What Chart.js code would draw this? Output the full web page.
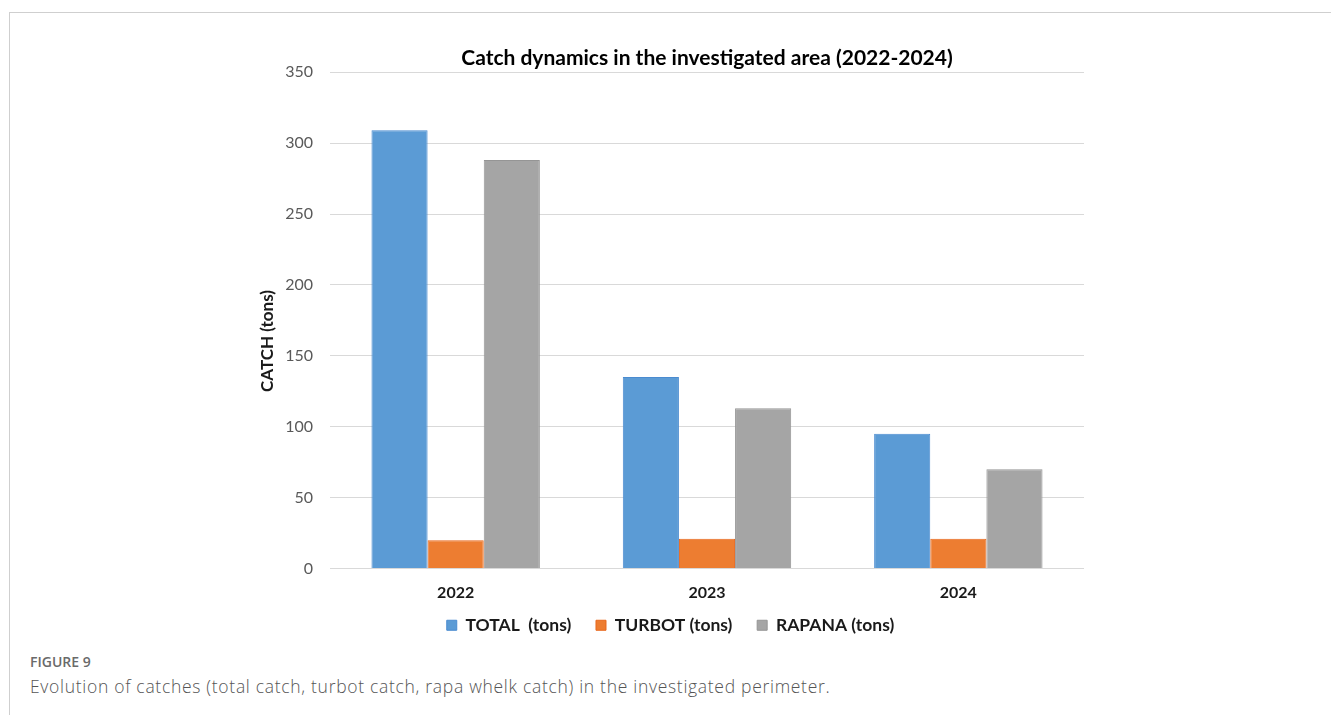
<!DOCTYPE html>
<html>
<head>
<meta charset="utf-8">
<script src="https://cdn.jsdelivr.net/npm/chart.js@4.4.0/dist/chart.umd.min.js"></script>
<style>
  body { margin: 0; background: #fff; width: 1331px; height: 715px; overflow: hidden; position: relative; }
  #frame { position: absolute; left: 9px; top: 12px; right: -2px; bottom: -2px; border-top: 1px solid #cfcfcf; border-left: 1px solid #cfcfcf; }
  #wrap { position: absolute; left: 0; top: 0; width: 1331px; height: 644px; }
  #fig { position: absolute; left: 30px; top: 652px; font-family: "Open Sans", sans-serif; font-size: 14px; font-weight: 600; color: #6a6a6a; }
  #cap { position: absolute; left: 30px; top: 674px; font-family: "Open Sans", sans-serif; font-size: 17.5px; color: #555; font-weight: 300; letter-spacing: 0.7px; }
</style>
</head>
<body>
<div id="frame"></div>
<div id="wrap"><canvas id="catchChart"></canvas></div>
<div id="fig">FIGURE 9</div>
<div id="cap">Evolution of catches (total catch, turbot catch, rapa whelk catch) in the investigated perimeter.</div>
<script>
// Years on the x axis
const years = ['2022', '2023', '2024'];

// Catch values (tons)
const totalTons = [309, 135, 95];
const turbotTons = [20, 21, 21];
const rapanaTons = [288, 113, 70];

const seriesNames = ['TOTAL  (tons)', 'TURBOT (tons)', 'RAPANA (tons)'];
const yTicks = [0, 50, 100, 150, 200, 250, 300, 350];

const font = 'Lato, "Liberation Sans", sans-serif';

let canvas = document.getElementById('catchChart');
let context = canvas.getContext('2d');

new Chart(context, {
    type: 'bar',
    data: {
        labels: years,
        datasets: [
            {
                label: seriesNames[0],
                data: totalTons,
                backgroundColor: '#5b9bd5',
                borderColor: '#4a8bd0',
                borderWidth: 1,
            },
            {
                label: seriesNames[1],
                data: turbotTons,
                backgroundColor: '#ed7d31',
                borderColor: '#e8681c',
                borderWidth: 1,
            },
            {
                label: seriesNames[2],
                data: rapanaTons,
                backgroundColor: '#a5a5a5',
                borderColor: '#959595',
                borderWidth: 1,
            }
        ]
    },
    options: {
        responsive: true,
        maintainAspectRatio: false,
        animation: false,
        layout: { padding: { left: 257, right: 247, top: 0, bottom: 0 } },
        datasets: { bar: { categoryPercentage: 0.67, barPercentage: 1.0 } },
        plugins: {
            title: {
                display: true,
                fullSize: false, // centre over the plot area like the original
                text: 'Catch dynamics in the investigated area (2022-2024)',
                color: '#000',
                font: { family: font, size: 21, weight: 'bold' },
                padding: { top: 46, bottom: 1 }
            },
            legend: {
                position: 'bottom',
                labels: {
                    color: '#1a1a1a',
                    font: { family: font, size: 17.5, weight: 'bold' },
                    boxWidth: 10,
                    boxHeight: 10,
                    padding: 12,
                    // small vertical padding, so widen the gaps between items with spaces
                    generateLabels: function (chart) {
                        let items = Chart.defaults.plugins.legend.labels.generateLabels(chart);
                        items.forEach((item, i) => {
                            if (i < items.length - 1) item.text = item.text + '   ';
                        });
                        return items;
                    }
                }
            },
            tooltip: { enabled: false }
        },
        scales: {
            x: {
                grid: { display: false, drawTicks: false },
                border: { display: false },
                ticks: {
                    color: '#1a1a1a',
                    font: { family: font, size: 16, weight: 'bold' },
                    padding: 15
                },
                afterFit: function (scale) { scale.height = 36; }
            },
            y: {
                min: 0,
                max: 350,
                afterBuildTicks: function (axis) {
                    axis.ticks = yTicks.map(v => ({ value: v }));
                },
                grid: { color: '#d9d9d9', lineWidth: 1, drawTicks: false },
                border: { display: false },
                ticks: {
                    color: '#595959',
                    font: { family: font, size: 16 },
                    padding: 17
                },
                title: {
                    display: true,
                    // trailing spaces push the label a bit below centre, as in the original
                    text: 'CATCH (tons)          ',
                    color: '#1a1a1a',
                    font: { family: font, size: 17, weight: 'bold' },
                    padding: 0
                },
                afterFit: function (scale) { scale.width = 73; }
            }
        }
    }
});
</script>
</body>
</html>
